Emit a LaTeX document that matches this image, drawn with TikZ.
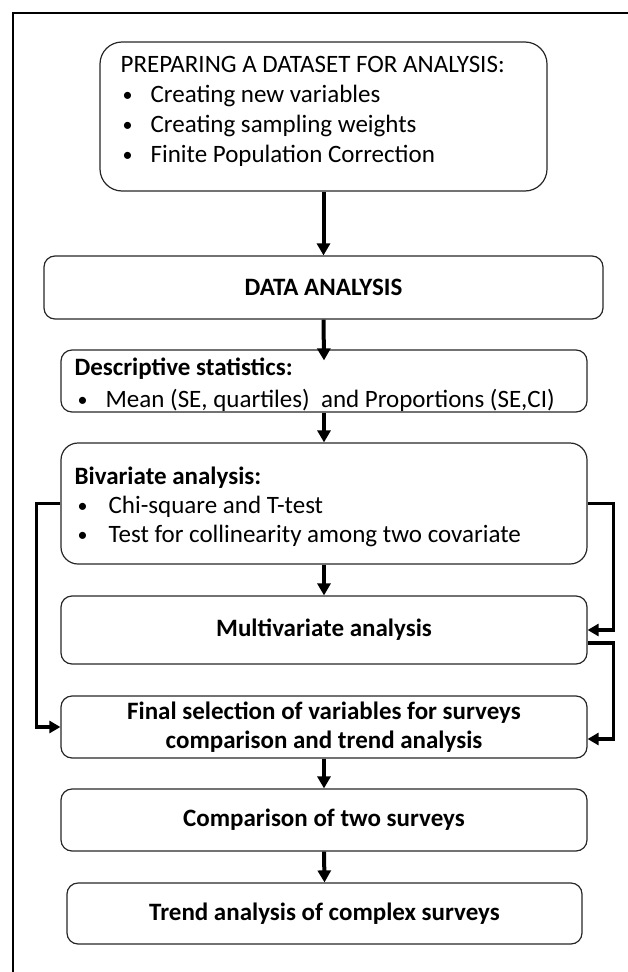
\documentclass[tikz,border=0pt]{standalone}
\usepackage{fontspec}
\setmainfont{Carlito}
\usetikzlibrary{arrows.meta}
\newcommand{\mybul}{\raisebox{1pt}{\fontsize{20}{20}\selectfont •}}
\begin{document}
\begin{tikzpicture}[x=1pt,y=-1pt,
  box/.style={draw=black!85, line width=1.2pt, rounded corners=11pt, inner sep=0pt, align=center,
    font=\fontsize{25}{29}\selectfont},
  txt/.style={inner sep=0pt, anchor=west, align=left},
  flow/.style={line width=4pt, -{Triangle[width=13pt,length=12pt]}},
  conn/.style={line width=3.5pt, line join=miter, -{Triangle[width=12pt,length=11pt]}},
  ]
\useasboundingbox (0,0) rectangle (628,972);
\draw[line width=2.5pt] (13,972) -- (13,13) -- (628,13);

% boxes
\node[box, rounded corners=22pt, minimum width=447pt, minimum height=149pt] (prep) at (323.5,116.5) {};
\node[txt, font=\fontsize{25}{30}\selectfont] (prept) at ([xshift=21pt,yshift=5pt]prep.west)
  {PREPARING A DATASET FOR ANALYSIS:\\
   \hspace*{2pt}\makebox[28pt][l]{\mybul}Creating new variables\\
   \hspace*{2pt}\makebox[28pt][l]{\mybul}Creating sampling weights\\
   \hspace*{2pt}\makebox[28pt][l]{\mybul}Finite Population Correction};

\node[box, minimum width=559pt, minimum height=63pt] (data) at (323.5,287.5) {\bfseries DATA ANALYSIS};

\node[box, minimum width=526pt, minimum height=62pt] (desc) at (324,381) {};
\node[txt, font=\fontsize{25}{32}\selectfont] (desct) at ([xshift=14pt,yshift=-4pt]desc.west)
  {\textbf{Descriptive statistics:}\\
   \hspace*{3pt}\makebox[28pt][l]{\mybul}Mean (SE, quartiles)\ \ and Proportions (SE,CI)};

\node[box, rounded corners=17pt, minimum width=526pt, minimum height=121pt] (biv) at (324,503.5) {};
\node[txt, font=\fontsize{25}{29}\selectfont] (bivt) at ([xshift=14pt,yshift=-3pt]biv.west)
  {\textbf{Bivariate analysis:}\\
   \hspace*{3pt}\makebox[31pt][l]{\mybul}Chi-square and T-test\\
   \hspace*{3pt}\makebox[31pt][l]{\mybul}Test for collinearity among two covariate};

\node[box, minimum width=526pt, minimum height=68pt] (multi) at (324,630) {\bfseries Multivariate analysis};

\node[box, minimum width=526pt, minimum height=62pt] (final) at (324,727)
  {\bfseries Final selection of variables for surveys\\ \bfseries comparison and trend analysis};

\node[box, minimum width=526pt, minimum height=62pt] (comp) at (324,820) {\bfseries Comparison of two surveys};

\node[box, minimum width=515pt, minimum height=61pt] (trend) at (324.5,913.5) {\bfseries Trend analysis of complex surveys};

% vertical arrows
\draw[flow] (prep.south) -- (data.north);
\draw[flow] (data.south) -- ([yshift=-11pt]desc.north);
\draw[flow] (desc.south) -- (biv.north);
\draw[flow] (biv.south) -- (multi.north);
\draw[flow] (final.south) -- (comp.north);
\draw[flow] (comp.south) -- (trend.north);

% side connectors
\draw[conn] (biv.west) -- ++(-24,0) |- (final.west);
\draw[conn] (biv.east) -- ++(26,0) |- (multi.east);
\draw[conn] ([yshift=-13pt]multi.east) -- ++(26,0) |- ([yshift=-12pt]final.east);
\end{tikzpicture}
\end{document}
